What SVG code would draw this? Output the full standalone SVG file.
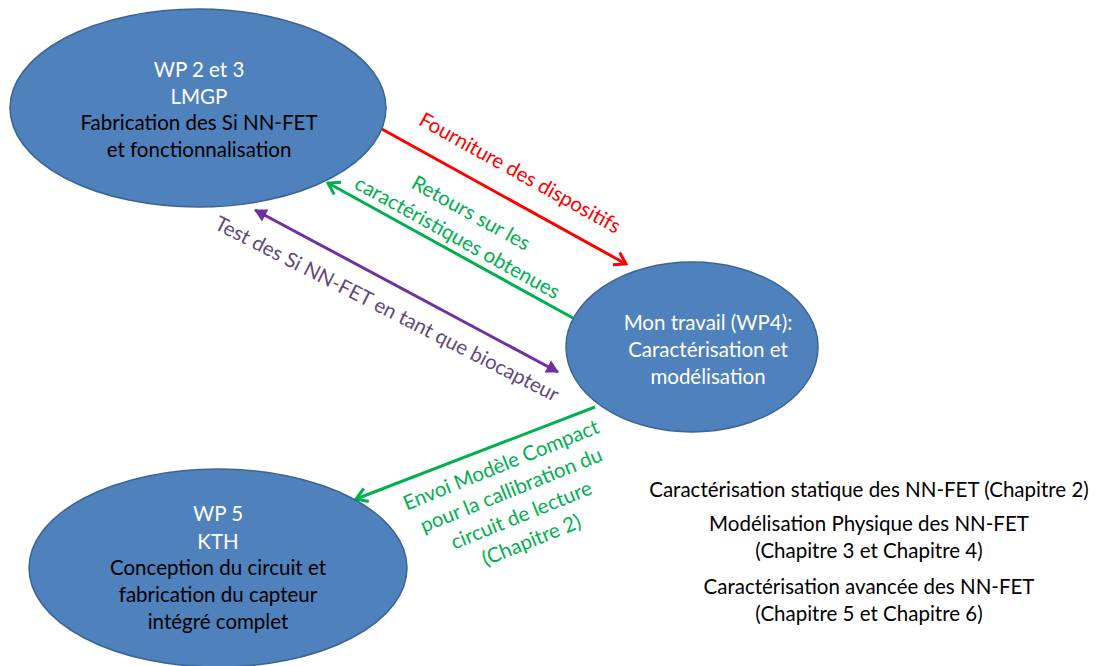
<svg xmlns="http://www.w3.org/2000/svg" width="1096" height="666" viewBox="0 0 1096 666">
<defs>
<style>
.node{fill:#4F81BD;stroke:#3A6494;stroke-width:1.5}
text{font-family:Lato,"Liberation Sans",sans-serif;font-size:20.5px;text-anchor:middle}
.w{fill:#FFFFFF}
.k{fill:#000000}
.red{fill:#FF0000}
.grn{fill:#00B050}
.pur{fill:#604A7B}
.conn{fill:none;stroke-width:3}
</style>
<marker id="aR" viewBox="-14 -9 16 18" markerWidth="16" markerHeight="18" refX="0" refY="0" orient="auto-start-reverse" markerUnits="userSpaceOnUse"><path d="M-11,-7 L0,0 L-11,7" fill="none" stroke="#FF0000" stroke-width="3"/></marker>
<marker id="aG" viewBox="-14 -9 16 18" markerWidth="16" markerHeight="18" refX="0" refY="0" orient="auto-start-reverse" markerUnits="userSpaceOnUse"><path d="M-11,-7 L0,0 L-11,7" fill="none" stroke="#00B050" stroke-width="3"/></marker>
<marker id="aP" viewBox="-14 -9 16 18" markerWidth="16" markerHeight="18" refX="0" refY="0" orient="auto-start-reverse" markerUnits="userSpaceOnUse"><path d="M-11,-6 L0,0 L-11,6 Z" fill="#7030A0" stroke="#7030A0" stroke-width="1"/></marker>
</defs>
<rect width="1096" height="666" fill="#FFFFFF"/>
<g id="connectors">
<line class="conn" x1="380" y1="128" x2="626" y2="264" stroke="#FF0000" marker-end="url(#aR)"/>
<line class="conn" x1="573" y1="318" x2="328" y2="183" stroke="#00B050" marker-end="url(#aG)"/>
<line class="conn" x1="255" y1="210" x2="558" y2="372" stroke="#7030A0" marker-start="url(#aP)" marker-end="url(#aP)"/>
<line class="conn" x1="595" y1="407" x2="356" y2="499" stroke="#00B050" marker-end="url(#aG)"/>
<g transform="translate(520,173) rotate(29)"><text class="red" x="0" y="7">Fourniture des dispositifs</text></g>
<g transform="translate(471,213) rotate(29)"><text class="grn" x="0" y="7">Retours sur les</text><text class="grn" x="0" y="35">caractéristiques obtenues</text></g>
<g transform="translate(387,309) rotate(27)"><text class="pur" x="0" y="7">Test des Si NN-FET en tant que biocapteur</text></g>
<g transform="translate(501,465) rotate(-22)"><text class="grn" x="0" y="7">Envoi Modèle Compact</text><text class="grn" x="0" y="34">pour la callibration du</text><text class="grn" x="0" y="61">circuit de lecture</text><text class="grn" x="0" y="88">(Chapitre 2)</text></g>
</g>
<g id="wp23">
<ellipse class="node" cx="198" cy="108" rx="188" ry="99"/>
<text class="w" x="199" y="77">WP 2 et 3</text>
<text class="w" x="199" y="104">LMGP</text>
<text class="k" x="199" y="130">Fabrication des Si NN-FET</text>
<text class="k" x="199" y="157">et fonctionnalisation</text>
</g>
<g id="wp4">
<ellipse class="node" cx="692" cy="347" rx="126" ry="85"/>
<text class="w" x="708" y="330">Mon travail (WP4):</text>
<text class="w" x="708" y="357">Caractérisation et</text>
<text class="w" x="708" y="384">modélisation</text>
</g>
<g id="wp5">
<ellipse class="node" cx="218" cy="568" rx="189" ry="99"/>
<text class="w" x="218" y="521">WP 5</text>
<text class="w" x="218" y="549">KTH</text>
<text class="k" x="218" y="575">Conception du circuit et</text>
<text class="k" x="218" y="602">fabrication du capteur</text>
<text class="k" x="218" y="629">intégré complet</text>
</g>
<g id="notes">
<text class="k" x="869" y="497">Caractérisation statique des NN-FET (Chapitre 2)</text>
<text class="k" x="869" y="531">Modélisation Physique des NN-FET</text>
<text class="k" x="869" y="558">(Chapitre 3 et Chapitre 4)</text>
<text class="k" x="869" y="594">Caractérisation avancée des NN-FET</text>
<text class="k" x="869" y="621">(Chapitre 5 et Chapitre 6)</text>
</g>
</svg>
